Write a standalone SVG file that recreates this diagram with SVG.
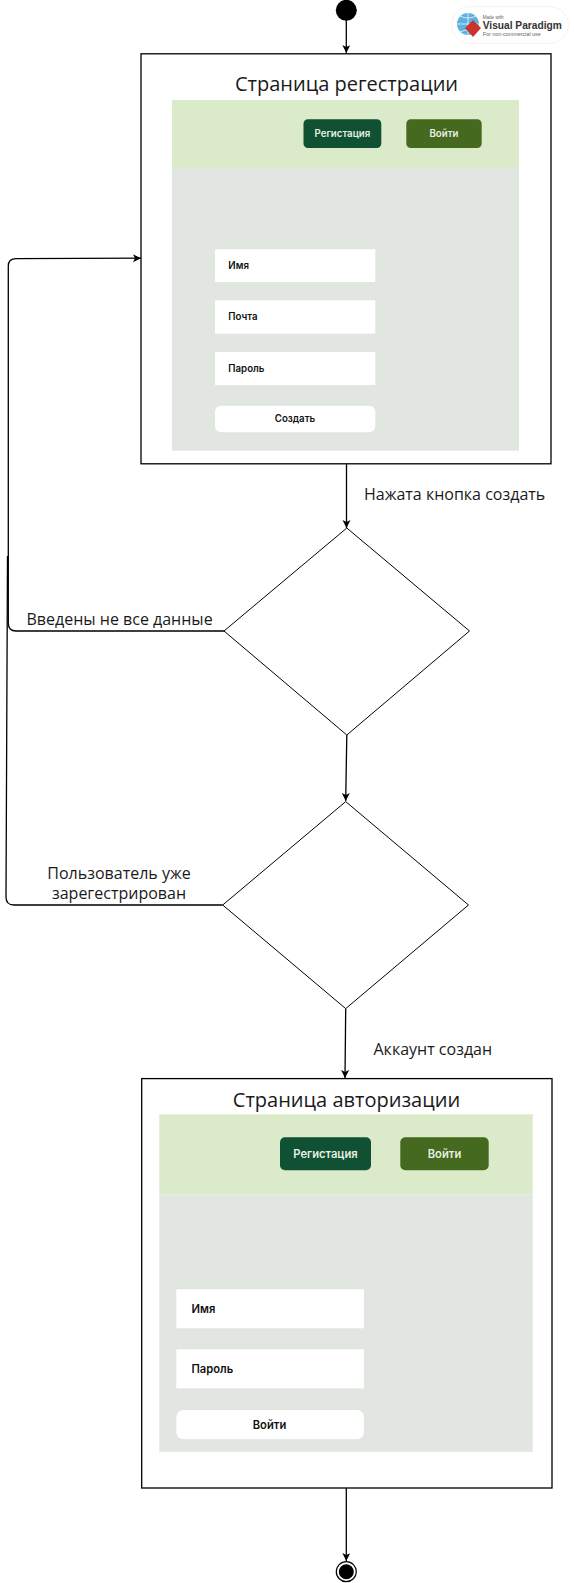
<svg xmlns="http://www.w3.org/2000/svg" width="574" height="1583" viewBox="0 0 574 1583">
<style>
.box{fill:#fff;stroke:#000;stroke-width:1.3}
.dia{fill:#fff;stroke:#000;stroke-width:1}
.green{fill:#dbebc9}
.gray{fill:#e1e6e0}
.in{fill:#fff}
.btnD{fill:#0f5132}
.btnL{fill:#45691f}
.line{fill:none;stroke:#000;stroke-width:1.3}
text{font-family:"Open Sans","Liberation Sans",sans-serif;fill:#1a1a1a}
.title{font-size:20px;text-anchor:middle}
.lbl{font-size:16px}
.mid{text-anchor:middle}
.ui{font-family:Inter,"Liberation Sans",sans-serif;font-weight:600;fill:#111}
.wh{fill:#e8f0e4}
.s1{font-size:9.7px}
.s2{font-size:11.2px}
.vp{font-family:"Liberation Sans",sans-serif;fill:#666}
</style>
<defs>
<marker id="arr" markerWidth="9" markerHeight="9" refX="8" refY="4" orient="auto" markerUnits="userSpaceOnUse"><path d="M0,0L8,4L0,8L2,4z" fill="#000"/></marker>
</defs>

<g id="connectors">
<path class="line" d="M346.3 20V53" marker-end="url(#arr)"/>
<path class="line" d="M346.5 464V528" marker-end="url(#arr)"/>
<path class="line" d="M346.8 735L345.7 801" marker-end="url(#arr)"/>
<path class="line" d="M345.7 1008.6L345 1078" marker-end="url(#arr)"/>
<path class="line" d="M346.3 1488V1561" marker-end="url(#arr)"/>
<path class="line" d="M224 631H16Q8.3 631 8.3 623V266Q8.3 258.6 16 258.6L141 258.2" marker-end="url(#arr)"/>
<path class="line" d="M222.7 905H14Q6 905 6 897L7.5 556"/>
</g>

<g id="start"><circle cx="346.3" cy="10.3" r="10.5" fill="#000"/></g>

<g id="logo">
<rect x="451.7" y="6.7" width="116.6" height="36.6" rx="18" fill="#fff" stroke="#f3f3f3"/>
<circle cx="468" cy="24" r="11" fill="#5fb2e0"/>
<path d="M457 24H479M468 13V35M460 16Q468 20 476 16M460 32Q468 28 476 32" fill="none" stroke="#fff" stroke-width=".7"/>
<path d="M473 20L481 28L473 37L465 28z" fill="#c8352b"/>
<text class="vp" x="482.7" y="18.5" style="font-size:4.6px">Made with</text>
<text class="vp" x="482.7" y="28.5" style="font-size:10.2px;font-weight:700;fill:#333">Visual Paradigm</text>
<text class="vp" x="482.7" y="36" style="font-size:5.4px">For non-commercial use</text>
</g>

<g id="reg-page">
<rect class="box" x="141" y="53.8" width="410" height="410"/>
<text class="title" x="346.5" y="91">Страница регестрации</text>
<rect class="green" x="172" y="100" width="347" height="68"/>
<rect class="gray" x="172" y="168" width="347" height="282.7"/>
<rect class="btnD" x="303.5" y="119.3" width="77.8" height="28.7" rx="4.5"/>
<text class="ui wh s1 mid" x="342.4" y="137.2">Регистация</text>
<rect class="btnL" x="406.3" y="119.3" width="75.4" height="28.7" rx="4.5"/>
<text class="ui wh s1 mid" x="444" y="137.2">Войти</text>
<rect class="in" x="215" y="249.3" width="160.3" height="32.7"/>
<text class="ui s1" x="228.3" y="269">Имя</text>
<rect class="in" x="215" y="300.3" width="160.3" height="33.4"/>
<text class="ui s1" x="228.3" y="320">Почта</text>
<rect class="in" x="215" y="352" width="160.3" height="33"/>
<text class="ui s1" x="228.3" y="372">Пароль</text>
<rect class="in" x="215" y="405.7" width="160.3" height="26.6" rx="6"/>
<text class="ui s1 mid" x="295" y="422">Создать</text>
</g>

<g id="decision-1"><path class="dia" d="M346.8 528L469.5 631L346.8 735L224 631z"/></g>
<g id="decision-2"><path class="dia" d="M345.7 801.6L468.5 905L345.7 1008.6L222.7 905z"/></g>

<g id="labels">
<text class="lbl" x="364" y="500">Нажата кнопка создать</text>
<text class="lbl" x="26.5" y="624.5">Введены не все данные</text>
<text class="lbl mid" x="119" y="879">Пользователь уже</text>
<text class="lbl mid" x="119" y="899">зарегестрирован</text>
<text class="lbl" x="373.5" y="1054.5">Аккаунт создан</text>
</g>

<g id="auth-page">
<rect class="box" x="141.7" y="1078.6" width="410.3" height="409.4"/>
<text class="title" x="346.5" y="1107">Страница авторизации</text>
<rect class="green" x="159.3" y="1114.3" width="373.4" height="80"/>
<rect class="gray" x="159.3" y="1194.3" width="373.4" height="257.5"/>
<rect class="btnD" x="280" y="1137.3" width="91" height="33" rx="5"/>
<text class="ui wh s2 mid" x="325.5" y="1157.5">Регистация</text>
<rect class="btnL" x="400.3" y="1137.3" width="88.4" height="33" rx="5"/>
<text class="ui wh s2 mid" x="444.5" y="1157.5">Войти</text>
<rect class="in" x="176.3" y="1289.3" width="187.7" height="39"/>
<text class="ui s2" x="191.5" y="1313">Имя</text>
<rect class="in" x="176.3" y="1349.3" width="187.7" height="39"/>
<text class="ui s2" x="191.5" y="1373">Пароль</text>
<rect class="in" x="176.3" y="1410" width="187.7" height="29.3" rx="7"/>
<text class="ui s2 mid" x="269.5" y="1428.5">Войти</text>
</g>

<g id="end">
<circle cx="346.3" cy="1571.7" r="10" fill="#fff" stroke="#000" stroke-width="1.2"/>
<circle cx="346.3" cy="1571.7" r="7.5" fill="#000"/>
</g>
</svg>
